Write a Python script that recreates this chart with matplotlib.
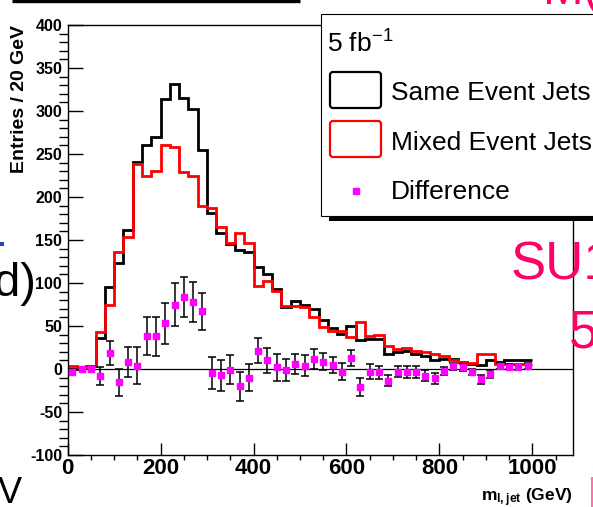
import numpy as np
import matplotlib
matplotlib.use("Agg")
import matplotlib.pyplot as plt
from matplotlib.patches import Rectangle, FancyBboxPatch

plt.rcParams["font.family"] = ["Liberation Sans", "DejaVu Sans"]
plt.rcParams["mathtext.fontset"] = "custom"
plt.rcParams["mathtext.rm"] = "Liberation Sans"
plt.rcParams["mathtext.bf"] = "Liberation Sans:bold"
plt.rcParams["mathtext.default"] = "regular"

W, H = 593, 507

# 20 GeV bins, 0 - 1000 GeV
bin_edges = np.arange(0, 1001, 20)

same_jets = [0, 2, 4, 36, 95, 123, 162, 241, 261, 270,
             314, 331, 315, 302, 255, 181, 158, 145, 138, 136,
             119, 111, 93, 72, 79, 75, 70, 57, 48, 41,
             50, 34, 35, 35, 17, 20, 21, 18, 15, 10,
             12, 12, 8, 6, 5, 11, 8, 10, 10, 10]
mixed_jets = [3, 2, 4, 43, 75, 136, 154, 238, 224, 230,
              260, 258, 229, 224, 189, 187, 165, 146, 158, 146,
              97, 102, 91, 73, 73, 72, 61, 49, 44, 44,
              37, 55, 38, 39, 27, 23, 25, 21, 20, 18,
              15, 10, 8, 7, 17, 17, 6, 6, 6, 6]
difference = [-3.5, 0, 0, -8, 19, -15.5, 8, 4, 38, 38,
              53, 75, 84, 78, 67, -5, -7, -1, -20, -10,
              21, 10, 2, -1, 6, 4, 11.5, 8.5, 4.5, -3,
              13, -20.5, -3, -4, -13.5, -3, -4, -3, -8, -11,
              -2, 3, 2, -3, -12, -6, 3.5, 2.7, 2, 3.5]
diff_err = [0, 0, 0, 10.5, 14, 16, 17.5, 22, 22, 22.5,
            23.5, 25, 23.5, 23, 21.5, 18.5, 18, 17, 17, 16,
            14.5, 15, 15.5, 13, 12, 12.5, 12, 10, 9.5, 9.5,
            9.5, 10.5, 9, 8, 6, 6.5, 7, 7, 6.5, 6,
            4.5, 4, 4, 3.5, 5, 5, 3, 3, 3, 3]

x_ticks = [0, 200, 400, 600, 800, 1000]
y_ticks = [-100, -50, 0, 50, 100, 150, 200, 250, 300, 350, 400]

fig = plt.figure(figsize=(W / 100, H / 100), dpi=100)
ax = fig.add_axes([67.7 / W, 1 - 455 / H, (572.7 - 67.7) / W, (455 - 25) / H])

centers = 0.5 * (bin_edges[:-1] + bin_edges[1:])
diff = np.asarray(difference, float)
err = np.asarray(diff_err, float)

ax.stairs(same_jets, bin_edges, baseline=None, color="black", lw=2)
ax.stairs(mixed_jets, bin_edges, baseline=None, color="#ff0000", lw=2)
ax.axhline(0, color="black", lw=0.9, zorder=3)
m = err > 0
ax.errorbar(centers[m], diff[m], yerr=err[m], fmt="none", ecolor="black",
            elinewidth=1.1, capsize=3, capthick=1.1, zorder=4)
ax.plot(centers, diff, "s", color="#ff00ff", ms=4, mec="#ff00ff", zorder=5)

ax.set_xlim(0, 1087)
ax.set_ylim(-100, 400)
ax.set_xticks(x_ticks, [str(t) for t in x_ticks], fontweight="bold")
ax.set_yticks(y_ticks, [str(t) for t in y_ticks], fontweight="bold")
ax.set_xticks(np.arange(0, 1087, 50), minor=True)
ax.set_yticks(np.arange(-100, 401, 10), minor=True)
ax.tick_params(direction="in", top=False, right=False, width=1.0)
ax.tick_params(axis="y", which="major", length=11, labelsize=11.5, pad=4)
ax.tick_params(axis="y", which="minor", length=6.5, width=1.0)
ax.tick_params(axis="x", which="major", length=8.5, labelsize=16, pad=2)
ax.tick_params(axis="x", which="minor", length=3.6, width=1.0)
for s in ax.spines.values():
    s.set_linewidth(1.0)

fig.text(20 / W, 1 - 25 / H, "Entries / 20 GeV", rotation=90, ha="center",
         va="top", fontsize=14, fontweight="bold")
fig.text(573 / W, 1 - 501 / H, r"m$_{\mathbf{l,jet}}$ (GeV)", ha="right",
         va="baseline", fontsize=12.5, fontweight="bold")

# overlay in pixel coords: legend and slide leftovers
ov = fig.add_axes([0, 0, 1, 1], zorder=10)
ov.set_xlim(0, W); ov.set_ylim(H, 0); ov.axis("off"); ov.patch.set_alpha(0)

ov.add_patch(Rectangle((329, 216), 300, 5, fc="black", ec="none"))
ov.add_patch(Rectangle((321, 14), 300, 202, fc="white", ec="black", lw=0.8))
ov.add_patch(FancyBboxPatch((330, 72), 51, 36, boxstyle="round,pad=0,rounding_size=3",
                            fc="none", ec="black", lw=1.6))
ov.add_patch(FancyBboxPatch((330, 121), 51, 36, boxstyle="round,pad=0,rounding_size=3",
                            fc="none", ec="#ff0000", lw=1.6))
ov.plot([355.7], [190.7], "s", color="#ff00ff", ms=4)
ov.text(327, 53, r"5 fb$^{-1}$", fontsize=19, va="baseline")
ov.text(391, 100, "Same Event Jets", fontsize=19, va="baseline")
ov.text(391, 150, "Mixed Event Jets", fontsize=19, va="baseline")
ov.text(391, 199, "Difference", fontsize=19, va="baseline")

# slide fragments around the plot
ov.plot([12, 300], [1.2, 1.2], color="black", lw=2.4, solid_capstyle="butt")
pink = "#ff0066"
ov.text(543, 4, "M(", fontsize=35, color=pink, va="baseline")
ov.text(511, 280, "SU1", fontsize=38, color=pink, va="baseline")
ov.text(569, 347, "5", fontsize=38, color=pink, va="baseline")
ov.text(36, 296, "d)", fontsize=34, ha="right", va="baseline")
ov.text(-2, 503, "V", fontsize=26, va="baseline")
ov.add_patch(Rectangle((0, 242), 4, 4, fc="#3040c0", ec="none"))
ov.plot([591.5, 591.5], [478, 507], color="#ff6fa8", lw=1.5)

fig.savefig("out.png", dpi=100)
